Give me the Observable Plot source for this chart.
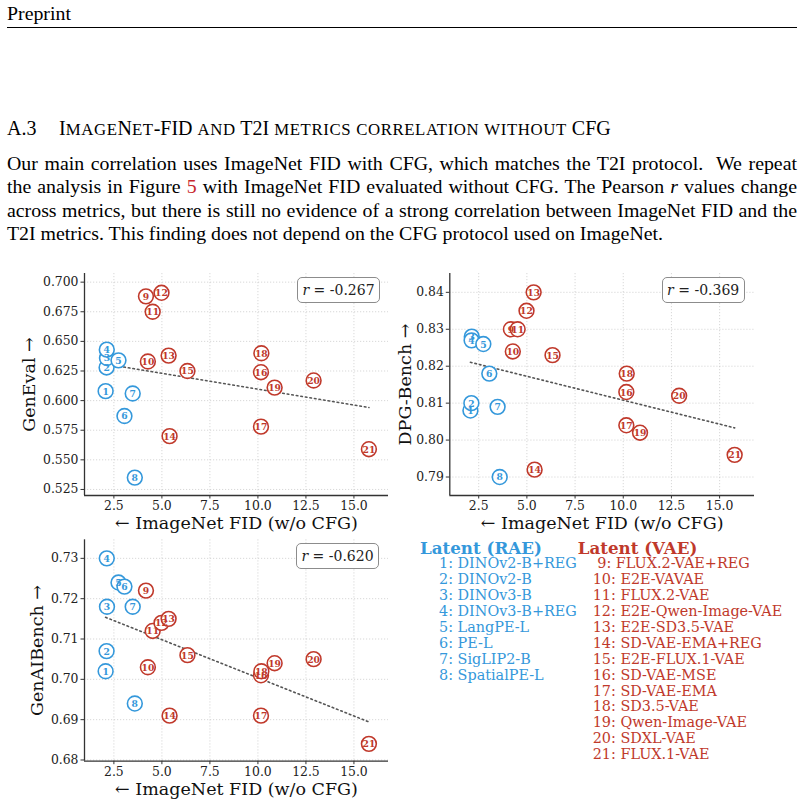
<!DOCTYPE html>
<html><head><meta charset="utf-8">
<script src="https://cdn.jsdelivr.net/npm/d3@7"></script>
<script src="https://cdn.jsdelivr.net/npm/@observablehq/plot@0.6"></script>
<style>
html,body{margin:0;padding:0;background:#fff;}
body{width:804px;height:806px;position:relative;overflow:hidden;font-family:"Liberation Serif","Times New Roman",serif;color:#000;}
.abs{position:absolute;white-space:nowrap;}
.para{position:absolute;left:7px;width:790px;font-size:19.85px;line-height:23.3px;}
.para div{white-space:nowrap;}
.just{text-align:justify;text-align-last:justify;white-space:normal !important;}
.sc{font-size:0.84em;letter-spacing:0.6px;}
.rbox{position:absolute;border:1px solid #8c8c8c;border-radius:5px;background:#fff;font-family:"DejaVu Serif",serif;font-size:14px;color:#222;text-align:center;box-sizing:border-box;}
.leg{position:absolute;font-family:"DejaVu Serif",serif;white-space:pre;}
.leghead{font-weight:bold;font-size:16.7px;}
.legitem{font-size:14.4px;}
svg text{font-family:"DejaVu Serif",serif;}
</style></head><body>
<div class="abs" style="left:7px;top:2px;font-size:19.85px;line-height:22px;">Preprint</div>
<div class="abs" style="left:7px;top:26.5px;width:790px;height:0;border-top:1.2px solid #000;"></div>
<div class="abs" style="left:7px;top:116px;font-size:20px;line-height:24px;">A.3</div>
<div id="heading" class="abs" style="left:59px;top:116px;font-size:20px;line-height:24px;"></div>
<div class="para" style="top:152px;">
  <div class="just">Our main correlation uses ImageNet FID with CFG, which matches the T2I protocol.&nbsp; We repeat</div>
  <div class="just">the analysis in Figure <span style="color:#c8282e">5</span> with ImageNet FID evaluated without CFG. The Pearson <i>r</i> values change</div>
  <div class="just">across metrics, but there is still no evidence of a strong correlation between ImageNet FID and the</div>
  <div>T2I metrics. This finding does not depend on the CFG protocol used on ImageNet.</div>
</div>
<div id="charts"></div>
<script>
// ---- data ----
const modelIds = [1,2,3,4,5,6,7,8,9,10,11,12,13,14,15,16,17,18,19,20,21];
const raeNames = ["DINOv2-B+REG","DINOv2-B","DINOv3-B","DINOv3-B+REG","LangPE-L","PE-L","SigLIP2-B","SpatialPE-L"];
const vaeNames = ["FLUX.2-VAE+REG","E2E-VAVAE","FLUX.2-VAE","E2E-Qwen-Image-VAE","E2E-SD3.5-VAE","SD-VAE-EMA+REG","E2E-FLUX.1-VAE","SD-VAE-MSE","SD-VAE-EMA","SD3.5-VAE","Qwen-Image-VAE","SDXL-VAE","FLUX.1-VAE"];
const latentGroup = ["RAE","RAE","RAE","RAE","RAE","RAE","RAE","RAE","VAE","VAE","VAE","VAE","VAE","VAE","VAE","VAE","VAE","VAE","VAE","VAE","VAE"];
const groupTitles = ["Latent (RAE)","Latent (VAE)"];
const imagenetFid = [2.07,2.12,2.14,2.13,2.74,3.05,3.48,3.59,4.17,4.27,4.52,4.98,5.35,5.40,6.33,10.16,10.16,10.18,10.87,12.90,15.78];
const genEval = [0.608,0.628,0.636,0.643,0.634,0.587,0.606,0.535,0.688,0.633,0.675,0.691,0.638,0.570,0.625,0.624,0.578,0.640,0.611,0.617,0.559];
const dpgBench = [0.808,0.810,0.828,0.827,0.826,0.818,0.809,0.790,0.830,0.824,0.830,0.835,0.840,0.792,0.823,0.813,0.804,0.818,0.802,0.812,0.796];
const genAIBench = [0.702,0.707,0.718,0.730,0.724,0.723,0.718,0.694,0.722,0.703,0.712,0.714,0.715,0.691,0.706,0.701,0.691,0.702,0.704,0.705,0.684];
const pearsonR = ["-0.267","-0.369","-0.620"];
const xTicks = [2.5,5.0,7.5,10.0,12.5,15.0];
const genEvalTicks = [0.525,0.550,0.575,0.600,0.625,0.650,0.675,0.700];
const dpgTicks = [0.79,0.80,0.81,0.82,0.83,0.84];
const genAITicks = [0.68,0.69,0.70,0.71,0.72,0.73];
const yLabels = ["GenEval \u2192","DPG-Bench \u2192","GenAIBench \u2192"];
const xLabel = "\u2190 ImageNet FID (w/o CFG)";
const headingText = "ImageNet-FID and T2I metrics correlation without CFG";

// small caps heading (lowercase -> reduced capitals)
document.getElementById("heading").innerHTML = headingText.replace(/[a-z]+/g, m => `<span class="sc">${m.toUpperCase()}</span>`);

// ---- style ----
const FONT = "DejaVu Serif, serif";
const BLUE = "#3498db", RED = "#c0392b";
const panels = [
  {values: genEval, ticks: genEvalTicks, fmt: ".3f", yLabel: yLabels[0], r: pearsonR[0],
   left: 0, top: 263, width: 400, height: 272, mt: 10, mb: 40, ml: 84, mr: 12,
   xDomain: [0.97, 16.8], yDomain: [0.5199, 0.7073], ylabDx: -55, rbox: [297, 277]},
  {values: dpgBench, ticks: dpgTicks, fmt: ".2f", yLabel: yLabels[1], r: pearsonR[1],
   left: 400, top: 263, width: 404, height: 272, mt: 10, mb: 40, ml: 49.3, mr: 50,
   xDomain: [1.0, 16.81], yDomain: [0.7850, 0.8451], ylabDx: -44, rbox: [661.7, 277]},
  {values: genAIBench, ticks: genAITicks, fmt: ".2f", yLabel: yLabels[2], r: pearsonR[2],
   left: 0, top: 529, width: 400, height: 277, mt: 10.3, mb: 45.3, ml: 84, mr: 12,
   xDomain: [0.97, 16.8], yDomain: [0.6797, 0.7346], ylabDx: -47, rbox: [296, 543]}
];

function fit(xs, ys) {
  const mx = d3.mean(xs), my = d3.mean(ys);
  const b = d3.sum(xs, (x, i) => (x - mx) * (ys[i] - my)) / d3.sum(xs, x => (x - mx) ** 2);
  return [my - b * mx, b];
}

const charts = document.getElementById("charts");
for (const p of panels) {
  const data = modelIds.map((id, i) => ({id, fid: imagenetFid[i], v: p.values[i], group: latentGroup[i]}));
  const [a, b] = fit(imagenetFid, p.values);
  const reg = d3.extent(imagenetFid).map(x => ({x, y: a + b * x}));
  const gridStyle = {stroke: "#bdbdbd", strokeOpacity: 0.75, strokeWidth: 0.8, strokeDasharray: "1.2,1.8"};
  const svg = Plot.plot({
    width: p.width, height: p.height,
    marginTop: p.mt, marginBottom: p.mb, marginLeft: p.ml, marginRight: p.mr,
    x: {domain: p.xDomain},
    y: {domain: p.yDomain},
    color: {domain: ["RAE", "VAE"], range: [BLUE, RED]},
    style: {fontFamily: FONT, fontSize: "12.4px", color: "#222", background: "transparent", overflow: "visible"},
    marks: [
      Plot.gridX(xTicks, gridStyle),
      Plot.gridY(p.ticks, gridStyle),
      Plot.line(reg, {x: "x", y: "y", stroke: "#555", strokeWidth: 1.6, strokeDasharray: "1.6,3"}),
      Plot.dot(data, {x: "fid", y: "v", r: 7.4, fill: "white", stroke: "group", strokeWidth: 1.6}),
      Plot.text(data, {x: "fid", y: "v", text: d => String(d.id), fill: "group", fontWeight: "bold", fontSize: 9.2, fontFamily: FONT, dy: 0.5}),
      Plot.axisX(xTicks, {tickSize: 3.5, tickPadding: 2.5, tickFormat: d3.format(".1f"), label: null, stroke: "#333", fontFamily: FONT, fontSize: 12.4}),
      Plot.axisY(p.ticks, {tickSize: 3.5, tickPadding: 2.5, tickFormat: d3.format(p.fmt), label: null, stroke: "#333", fontFamily: FONT, fontSize: 12.4}),
      Plot.ruleX([p.xDomain[0]], {stroke: "#333", strokeWidth: 1.3}),
      Plot.ruleY([p.yDomain[0]], {stroke: "#333", strokeWidth: 1.3}),
      Plot.text([xLabel], {frameAnchor: "bottom", dy: 28, textAnchor: "middle", lineAnchor: "middle", fontSize: 17.5, fontFamily: FONT, fill: "#111"}),
      Plot.text([p.yLabel], {frameAnchor: "left", dx: p.ylabDx, rotate: -90, textAnchor: "middle", lineAnchor: "middle", fontSize: 17.5, fontFamily: FONT, fill: "#111"})
    ]
  });
  const wrap = document.createElement("div");
  wrap.style.cssText = `position:absolute;left:${p.left}px;top:${p.top}px;`;
  wrap.appendChild(svg);
  charts.appendChild(wrap);
  const box = document.createElement("div");
  box.className = "rbox";
  box.style.cssText = `left:${p.rbox[0]}px;top:${p.rbox[1]}px;width:83px;height:26px;line-height:24px;`;
  box.innerHTML = `<i>r</i> = ${p.r}`;
  charts.appendChild(box);
}

// ---- legend ----
function addText(cls, text, left, centerY, color, lh) {
  const d = document.createElement("div");
  d.className = "leg " + cls;
  d.textContent = text;
  d.style.cssText = `left:${left}px;top:${centerY - lh / 2}px;line-height:${lh}px;color:${color};`;
  charts.appendChild(d);
}
addText("leghead", groupTitles[0], 420, 548, BLUE, 18);
addText("leghead", groupTitles[1], 577.7, 548, RED, 18);
raeNames.forEach((n, i) => addText("legitem", `${modelIds[i]}: ${n}`, 439, 563.3 + 16 * i, BLUE, 16));
vaeNames.forEach((n, i) => {
  const id = modelIds[i + raeNames.length];
  addText("legitem", `${id < 10 ? " " : ""}${id}: ${n}`, 592.7, 563.3 + 15.9 * i, RED, 16);
});
</script>
</body></html>
